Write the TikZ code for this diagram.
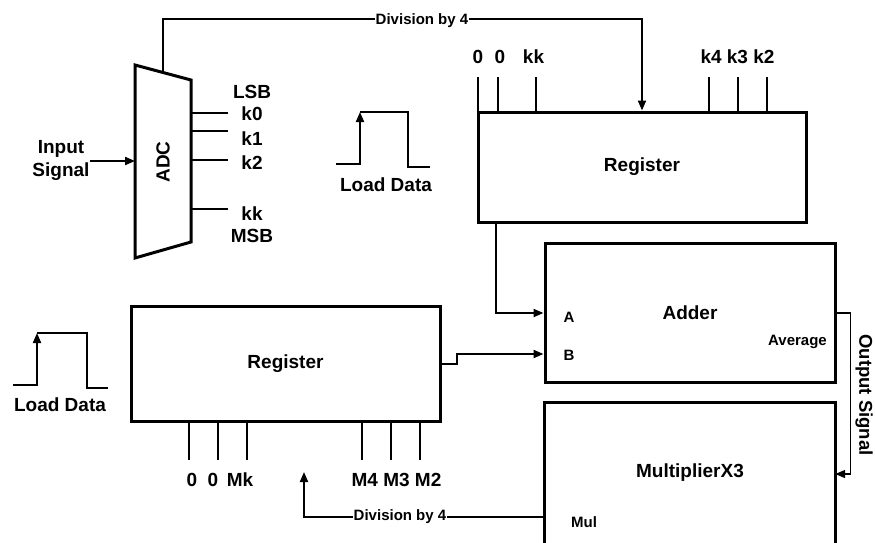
\documentclass[tikz,border=0pt]{standalone}
\usepackage{fontspec}
\setmainfont{Liberation Sans}
\usetikzlibrary{arrows.meta,calc}
\begin{document}
\begin{tikzpicture}[x=1pt,y=-1pt,
  big/.style={font=\fontsize{19}{23}\selectfont\bfseries, inner sep=0pt},
  small/.style={font=\fontsize{15}{18}\selectfont\bfseries, inner sep=0pt},
  box/.style={draw, line width=3pt, inner sep=0pt, font=\fontsize{19}{23}\selectfont\bfseries},
  conn/.style={line width=2pt},
  thinconn/.style={line width=1.6pt},
  arr/.style={-{Triangle[length=10pt,width=8pt]}},
  pin/.style={line width=2pt},
  lbl/.style={small, fill=white, inner xsep=1pt, inner ysep=0pt}]
\useasboundingbox (0,0) rectangle (875,543);

% boxes
\node[box, minimum width=328pt, minimum height=110pt] (regT) at (642,167) {Register};
\node[box, minimum width=290pt, minimum height=139pt] (adder) at (690,312.5) {Adder};
\node[big, minimum width=290pt, minimum height=140pt] (mul) at (690,473) {MultiplierX3};
\draw[line width=3pt] (mul.south west) -- (mul.north west) -- (mul.north east) -- (mul.south east);
\node[box, minimum width=309pt, minimum height=115pt] (regB) at (285.5,363.5) {Register};

% ADC
\coordinate (adcTL) at (135,65);
\coordinate (adcTR) at (191,80);
\coordinate (adcBR) at (191,242);
\coordinate (adcBL) at (135,258);
\draw[line width=3pt] (adcTL) -- (adcTR) -- (adcBR) -- (adcBL) -- cycle;
\node[big, rotate=90] (adc) at (163,162) {ADC};
\coordinate (adcTop) at (163,72.5);
\coordinate (adcIn) at (135,161);

% input signal
\node[big, align=center] (inp) at (61,160.5) {Input\\Signal};
\draw[conn,arr] (inp.east |- adcIn) -- (adcIn);

% ADC outputs
\foreach \y in {113,131,160,209} \draw[pin] (191,\y) -- (228,\y);
\node[big] (lsb) at (252,92) {LSB};
\node[big] (k0) at (252,114) {k0};
\node[big] (k1) at (252,139) {k1};
\node[big] (k2) at (252,163) {k2};
\node[big] (kk) at (252,214) {kk};
\node[big] (msb) at (252,236) {MSB};

% top division by 4
\coordinate (divTc) at ($(regT.north)+(0,-91)$);
\draw[conn,arr] (adcTop) |- (divTc) -- (regT.north);
\node[lbl] (divT) at (422,21) {Division by 4};

% top register pins
\foreach \x in {478,498,536,709,738,767} \draw[pin] (\x,77) -- (\x,112);
\node[big] (t0a) at (478,57) {0};
\node[big] (t0b) at (500,57) {0};
\node[big] (tkk) at (533.5,57) {kk};
\node[big] (tk4) at (737.5,57) {k4 k3 k2};

% top load data pulse
\draw[conn,arr] (336,164) -- (360,164) -- (360,112);
\draw[conn] (360,112) -- (408,112) -- (408,167) -- (430,167);
\node[big] (ldT) at (386,185) {Load Data};

% bottom load data pulse
\draw[conn,arr] (13,385) -- (37,385) -- (37,333);
\draw[conn] (37,333) -- (87,333) -- (87,388) -- (108,388);
\node[big] (ldB) at (60,405) {Load Data};

% register top -> adder A
\coordinate (regTa) at ($(regT.south west)+(19,0)$);
\coordinate (addA) at ($(adder.west)+(0,0.5)$);
\draw[conn,arr] (regTa) |- (addA);
\node[small] (la) at (569,317) {A};

% register bottom -> adder B
\coordinate (addB) at ($(adder.west)+(0,41.5)$);
\draw[conn,arr] (regB.east) -- ++(15,0) -- ++(0,-9.5) -- (addB);
\node[small] (lb) at (569,355) {B};
\node[small, anchor=east] (lavg) at (827,342) {Average};

% output signal
\coordinate (addOut) at ($(adder.east)+(0,0.5)$);
\coordinate (mulIn) at ($(mul.east)+(0,1)$);
\draw[thinconn,arr] (addOut) -- ++(14,0) |- (mulIn);
\node[font=\fontsize{18.5}{22}\selectfont\bfseries, inner sep=0pt, rotate=-90] (outs) at (864,395) {Output Signal};

% bottom division by 4
\coordinate (mulOut) at ($(mul.west)+(0,44)$);
\coordinate (divBtip) at (304,472);
\draw[conn,arr] (mulOut) -| (divBtip);
\node[lbl] (divB) at (400,517) {Division by 4};
\node[small] (lmul) at (584,522) {Mul};

% bottom register pins
\foreach \x in {189,218,247,362,391,420} \draw[pin] (\x,421) -- (\x,460);
\node[big] (b0a) at (192,480) {0};
\node[big] (b0b) at (213,480) {0};
\node[big] (bmk) at (240,480) {Mk};
\node[big] (bm4) at (396.5,480) {M4 M3 M2};
\end{tikzpicture}
\end{document}
